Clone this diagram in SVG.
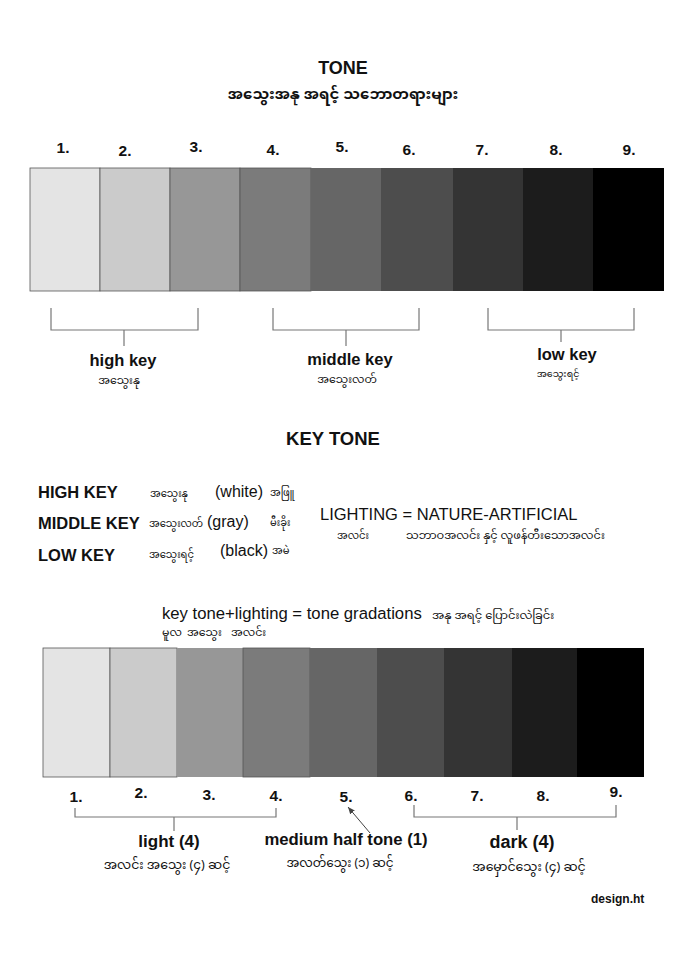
<svg xmlns="http://www.w3.org/2000/svg" width="686" height="960" viewBox="0 0 686 960">
<style>
.t{font-family:"Liberation Sans",Arial,sans-serif;fill:#111}
.b{font-weight:bold}
.my{font-family:"Noto Sans Myanmar","Padauk","Myanmar Text","Noto Sans",sans-serif;fill:#111}
.n{font-family:"Liberation Sans",Arial,sans-serif;font-weight:bold;font-size:15.5px;fill:#111;text-anchor:middle}
.c{text-anchor:middle}
.sw{stroke:#555;stroke-width:0.8}
.br{fill:none;stroke:#777;stroke-width:1.2}
</style>
<defs>
<marker id="ah" markerWidth="8" markerHeight="8" refX="7" refY="4" orient="auto" markerUnits="userSpaceOnUse">
<path d="M0,1 L7,4 L0,7 Z" fill="#444"/>
</marker>
</defs>
<rect width="686" height="960" fill="#fff"/>

<g id="title">
<text class="t b c" x="343" y="74" font-size="18">TONE</text>
<text class="my c" x="343" y="99" font-size="15" font-weight="bold">အသွေးအနု အရင့် သဘောတရားများ</text>
</g>

<g id="top-numbers">
<text class="n" x="63" y="153">1.</text>
<text class="n" x="125" y="156">2.</text>
<text class="n" x="196" y="152">3.</text>
<text class="n" x="273" y="155">4.</text>
<text class="n" x="342" y="152">5.</text>
<text class="n" x="409" y="155">6.</text>
<text class="n" x="482" y="155">7.</text>
<text class="n" x="556" y="155">8.</text>
<text class="n" x="629" y="155">9.</text>
</g>

<g id="top-scale">
<rect class="sw" x="30" y="168" width="70" height="123" fill="#e4e4e4"/>
<rect class="sw" x="100" y="168" width="70" height="123" fill="#cbcbcb"/>
<rect class="sw" x="170" y="168" width="70" height="123" fill="#979797"/>
<rect class="sw" x="240" y="168" width="71" height="123" fill="#7b7b7b"/>
<rect x="311" y="168" width="70" height="123" fill="#666666"/>
<rect x="381" y="168" width="72" height="123" fill="#4d4d4d"/>
<rect x="453" y="168" width="70" height="123" fill="#343434"/>
<rect x="523" y="168" width="70" height="123" fill="#1c1c1c"/>
<rect x="593" y="168" width="71" height="123" fill="#000"/>
</g>

<g id="connectors">
<path class="br" d="M51,308 V330 H198 V308 M124,330 V346"/>
<path class="br" d="M273,308 V330 H419 V308 M346,330 V346"/>
<path class="br" d="M488,308 V330 H634 V308 M561,330 V342"/>
<path class="br" d="M75,808 V817 H276 V808 M174,817 V831"/>
<path class="br" d="M414,805 V817 H616 V805 M517,817 V830"/>
<line x1="370" y1="833" x2="348" y2="807" stroke="#444" stroke-width="1" marker-end="url(#ah)"/>
</g>

<g id="high-key">
<text class="t b c" x="123" y="366" font-size="16.5">high key</text>
<text class="my c" x="119" y="384" font-size="11">အသွေးနု</text>
</g>
<g id="middle-key">
<text class="t b c" x="350" y="365" font-size="16.5">middle key</text>
<text class="my c" x="347" y="383" font-size="11">အသွေးလတ်</text>
</g>
<g id="low-key">
<text class="t b c" x="567" y="360" font-size="16.5">low key</text>
<text class="my c" x="558" y="377" font-size="9.5">အသွေးရင့်</text>
</g>

<g id="key-tone">
<text class="t b c" x="333" y="445" font-size="18.5">KEY TONE</text>
<text class="t b" x="38" y="498" font-size="16.5">HIGH KEY</text>
<text class="my" x="150" y="497" font-size="10">အသွေးနု</text>
<text class="t" x="215" y="497" font-size="16">(white)</text>
<text class="my" x="270" y="496" font-size="10">အဖြူ</text>
<text class="t b" x="38" y="529" font-size="16.5">MIDDLE KEY</text>
<text class="my" x="149" y="527" font-size="10">အသွေးလတ်</text>
<text class="t" x="207" y="527" font-size="16">(gray)</text>
<text class="my" x="270" y="526" font-size="10">မီးခိုး</text>
<text class="t b" x="38" y="561" font-size="16.5">LOW KEY</text>
<text class="my" x="149" y="558" font-size="10">အသွေးရင့်</text>
<text class="t" x="220" y="556" font-size="16">(black)</text>
<text class="my" x="272" y="554" font-size="10">အမဲ</text>
</g>

<g id="lighting">
<text class="t" x="320" y="520" font-size="16.5">LIGHTING = NATURE-ARTIFICIAL</text>
<text class="my" x="337" y="539" font-size="10">အလင်း</text>
<text class="my" x="406" y="539" font-size="11.3">သဘာဝအလင်း နှင့် လူဖန်တီးသောအလင်း</text>
</g>

<g id="formula">
<text class="t" x="162" y="619" font-size="16.7">key tone+lighting = tone gradations</text>
<text class="my" x="432" y="619" font-size="11.5">အနု အရင့် ပြောင်းလဲခြင်း</text>
<text class="my" x="162" y="636" font-size="11">မူလ</text>
<text class="my" x="187" y="636" font-size="11">အသွေး</text>
<text class="my" x="231" y="636" font-size="11">အလင်း</text>
</g>

<g id="bottom-scale">
<rect class="sw" x="43" y="648" width="67" height="129" fill="#e4e4e4"/>
<rect class="sw" x="110" y="648" width="67" height="129" fill="#cbcbcb"/>
<rect x="177" y="648" width="66" height="129" fill="#979797"/>
<rect class="sw" x="243" y="648" width="67" height="129" fill="#7b7b7b"/>
<rect x="310" y="648" width="67" height="129" fill="#666666"/>
<rect x="377" y="648" width="67" height="129" fill="#4d4d4d"/>
<rect x="444" y="648" width="68" height="129" fill="#343434"/>
<rect x="512" y="648" width="65" height="129" fill="#1c1c1c"/>
<rect x="577" y="648" width="67" height="129" fill="#000"/>
</g>

<g id="bottom-numbers">
<text class="n" x="76" y="802">1.</text>
<text class="n" x="141" y="798">2.</text>
<text class="n" x="209" y="800">3.</text>
<text class="n" x="276" y="801">4.</text>
<text class="n" x="346" y="802">5.</text>
<text class="n" x="411" y="801">6.</text>
<text class="n" x="477" y="801">7.</text>
<text class="n" x="543" y="801">8.</text>
<text class="n" x="616" y="797">9.</text>
</g>

<g id="light">
<text class="t b c" x="169" y="847" font-size="17">light (4)</text>
<text class="my c" x="167" y="869" font-size="12.5">အလင်း အသွေး (၄) ဆင့်</text>
</g>
<g id="medium">
<text class="t b c" x="346" y="845" font-size="16.7">medium half tone (1)</text>
<text class="my c" x="340" y="867" font-size="12">အလတ်သွေး (၁) ဆင့်</text>
</g>
<g id="dark">
<text class="t b c" x="522" y="848" font-size="18">dark (4)</text>
<text class="my c" x="529" y="871" font-size="12.5">အမှောင်သွေး (၄) ဆင့်</text>
</g>

<text class="t b" x="591" y="903" font-size="12">design.ht</text>
</svg>
